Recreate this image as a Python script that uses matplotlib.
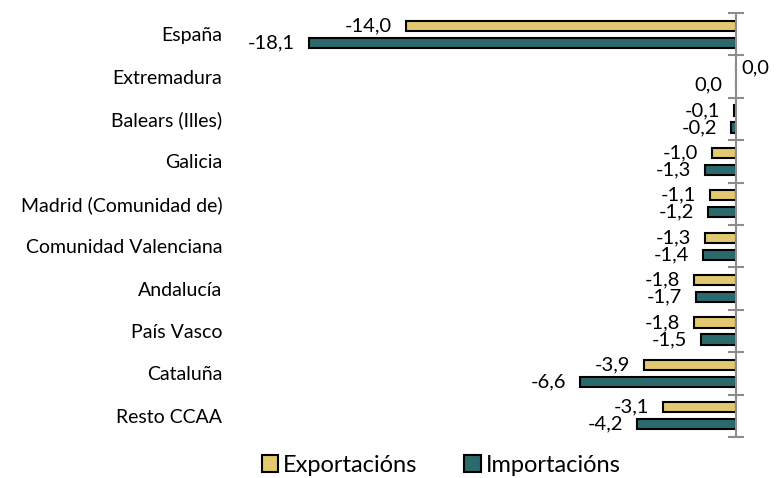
import numpy as np
import matplotlib.pyplot as plt
from matplotlib.patches import Patch

plt.rcParams['font.family'] = ['Lato', 'DejaVu Sans']

regions = ['España', 'Extremadura', 'Balears (Illes)', 'Galicia', 'Madrid (Comunidad de)',
           'Comunidad Valenciana', 'Andalucía', 'País Vasco', 'Cataluña', 'Resto CCAA']
exports = [-14.0, 0.01, -0.1, -1.0, -1.1, -1.3, -1.8, -1.8, -3.9, -3.1]
imports = [-18.1, -0.01, -0.2, -1.3, -1.2, -1.4, -1.7, -1.5, -6.6, -4.2]

col_exp = '#E2C870'
col_imp = '#2B6A6C'


def fmt(v):
    s = f'{v:.1f}'.replace('.', ',')
    return '0,0' if s == '-0,0' else s


fig = plt.figure(figsize=(7.82, 4.78), dpi=100)
ax = fig.add_axes([0.3376, 0.0858, 0.6036, 0.887])

y = np.arange(len(regions))
h = 0.24
off = 0.2
ax.barh(y - off, exports, height=h, color=col_exp, edgecolor='black', linewidth=1.5)
ax.barh(y + off, imports, height=h, color=col_imp, edgecolor='black', linewidth=1.5)

for vals, dy in [(exports, -off), (imports, off)]:
    for i, v in enumerate(vals):
        if v >= 0:
            ax.annotate(fmt(v), (v, i + dy), xytext=(4, 0), textcoords='offset points',
                        ha='left', va='center', fontsize=14.5, annotation_clip=False)
        else:
            ax.annotate(fmt(v), (v, i + dy), xytext=(-10, 0), textcoords='offset points',
                        ha='right', va='center', fontsize=14.5, annotation_clip=False)

ax.set_xlim(-20, 0)
ax.set_ylim(len(regions) - 0.5, -0.5)
ax.set_xticks([])

for s in ['top', 'bottom', 'left']:
    ax.spines[s].set_visible(False)
ax.spines['right'].set_color('#8c8c8c')
ax.spines['right'].set_linewidth(1.5)

ax.set_yticks(y)
ax.set_yticklabels(regions, fontsize=14)
ax.tick_params(axis='y', which='major', length=0, pad=30, left=False, right=False)
ax.set_yticks(np.arange(len(regions) + 1) - 0.5, minor=True)
ax.tick_params(axis='y', which='minor', left=False, right=True, direction='inout',
               length=12, width=1.5, color='#8c8c8c')

handles = [Patch(facecolor=col_exp, edgecolor='black', linewidth=1.5, label='Exportacións'),
           Patch(facecolor=col_imp, edgecolor='black', linewidth=1.5, label='Importacións')]
fig.legend(handles=handles, loc='center', bbox_to_anchor=(0.564, 0.027), ncol=2, frameon=False,
           fontsize=17, handlelength=0.7, handleheight=0.7, handletextpad=0.2, columnspacing=2.0)

fig.savefig('out.png', dpi=100)
